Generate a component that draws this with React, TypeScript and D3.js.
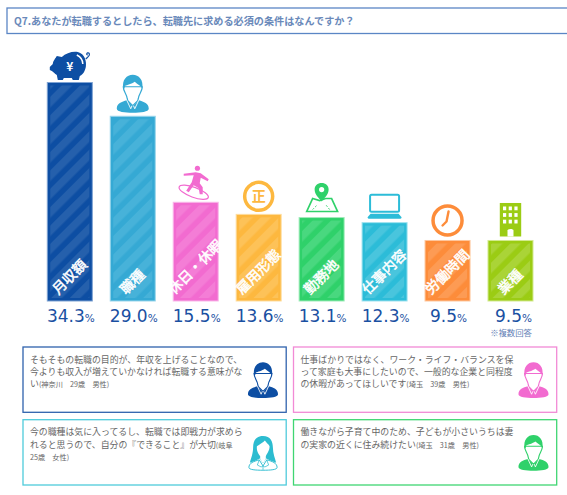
import { useEffect, useRef } from "react";
import * as d3 from "d3";

const W = 567;
const H = 495;
const JP = "'Noto Sans CJK JP', sans-serif";

const title = "Q7.あなたが転職するとしたら、転職先に求める必須の条件はなんですか？";
const categories = ["月収額", "職種", "休日・休暇", "雇用形態", "勤務地", "仕事内容", "労働時間", "業種"];
const values = [34.3, 29.0, 15.5, 13.6, 13.1, 12.3, 9.5, 9.5];
const barColors = ["#0d4ea3", "#35a9d4", "#f26bd0", "#fdb83f", "#2fd16a", "#2cbcd8", "#fd8c3a", "#9bcc14"];
const stripeColors = ["#2560ac", "#47b2d9", "#f47dd6", "#fdc258", "#49d87f", "#49c5dd", "#fd9b54", "#aad437"];
const borderColors = ["#7fa3d3", "#9ad6ec", "#f9b8e9", "#fedd9f", "#a0ecba", "#9fe2ef", "#fec79e", "#d3ea90"];

const commentColors = ["#2f62ad", "#f28ad6", "#4fcbdb", "#3fd672"];
const iconColors = ["#0d4ea3", "#f26bd0", "#2cbcd0", "#2fd16a"];
const commentFemale = [false, false, true, false];
// [本文, 小さい注記] per line
const commentLines: [string, string][][] = [
  [
    ["そもそもの転職の目的が、年収を上げることなので、", ""],
    ["今よりも収入が増えていかなければ転職する意味がな", ""],
    ["い", "(神奈川　29歳　男性)"],
  ],
  [
    ["仕事ばかりではなく、ワーク・ライフ・バランスを保", ""],
    ["って家庭も大事にしたいので、一般的な企業と同程度", ""],
    ["の休暇があってほしいです", "(埼玉　39歳　男性)"],
  ],
  [
    ["今の職種は気に入ってるし、転職では即戦力が求めら", ""],
    ["れると思うので、自分の『できること』が大切", "(岐阜"],
    ["", "25歳　女性)"],
  ],
  [
    ["働きながら子育て中のため、子どもが小さいうちは妻", ""],
    ["の実家の近くに住み続けたい", "(埼玉　31歳　男性)"],
  ],
];

type G = d3.Selection<SVGGElement, unknown, null, undefined>;

// icons are drawn around the origin (bar top centre, or box anchor)
function man(g: G, color: string) {
  g.append("path")
    .attr("fill", color)
    .attr("d", "M-16,-4 C-16,-9.5 -11,-11 -6,-12.5 L0,-6.5 L6,-12.5 C11,-11 16,-9.5 16,-4 C16,-1 8,0 0,0 C-8,0 -16,-1 -16,-4 Z");
  g.append("path")
    .attr("fill", "#fff")
    .attr("stroke", color)
    .attr("stroke-width", 1.2)
    .attr("d", "M-9.5,-26 C-9.5,-21 -6,-19 -5.5,-14 L-5,-12 L0,-7 L5,-12 L5.5,-14 C6,-19 9.5,-21 9.5,-26 Z");
  g.append("path")
    .attr("fill", color)
    .attr("d", "M-9.5,-24 C-11,-33 -6,-38 0,-38 C6,-38 11,-33 9.5,-24 C8.5,-27 5,-28 2,-31 C-1,-29 -6,-27.5 -7.5,-27 L-8.5,-24 Z");
  g.append("path")
    .attr("fill", "none")
    .attr("stroke", "#fff")
    .attr("stroke-width", 0.9)
    .attr("d", "M-6,-12.5 L-2,-4 L-0.8,-7 M6,-12.5 L2,-4 L0.8,-7");
}

function woman(g: G, color: string) {
  g.append("path")
    .attr("fill", "#fff")
    .attr("stroke", color)
    .attr("stroke-width", 1)
    .attr("d", "M-15,-3.5 C-15,-8 -10,-10 -4,-11.5 L0,-5 L4,-11.5 C10,-10 15,-8 15,-3.5 C15,-1 8,-0.5 0,-0.5 C-8,-0.5 -15,-1 -15,-3.5 Z");
  g.append("path")
    .attr("fill", "none")
    .attr("stroke", color)
    .attr("stroke-width", 0.8)
    .attr("d", "M-4,-11.5 L-6,-6 L-2,-4 L0,-5 L2,-4 L6,-6 L4,-11.5 M0,-5 L0,-1");
  g.append("path")
    .attr("fill", color)
    .attr("d", "M0,-37 C-8,-37 -10.5,-31 -10.5,-25 C-10.5,-18 -13,-13 -14,-8.5 L-7,-11 L-3.5,-13 L0,-8 L3.5,-13 L7,-11 L14,-8.5 C13,-13 10.5,-18 10.5,-25 C10.5,-31 8,-37 0,-37 Z");
  g.append("path")
    .attr("fill", "#fff")
    .attr("d", "M-6.5,-26 C-3,-28 0,-30 2,-32 C4,-29 6,-28 7,-26 C7,-21 4,-18 3,-15.5 L3,-12.5 L0,-8 L-3,-12.5 L-3,-15.5 C-5,-18 -7,-21 -6.5,-26 Z");
}

function piggy(g: G, color: string) {
  g.append("path")
    .attr("fill", color)
    .attr("d", "M-20,-14 L-17,-17 C-17,-20 -14,-23 -13,-25 L-8,-24 C-4,-28 3,-30 8,-29 C15,-27 17,-20 16,-14 C15,-10 14,-7 10,-5 L9,-1 L3,-1 L2,-3 L-6,-3 L-7,-1 L-12,-1 L-13,-6 C-16,-8 -16,-9 -18,-10 L-20,-11 Z");
  g.append("path")
    .attr("fill", "none")
    .attr("stroke", color)
    .attr("stroke-width", 1.2)
    .attr("d", "M16,-22 C18,-24 21,-26 19,-28 C17,-29 16,-26 18,-26");
  g.append("path")
    .attr("fill", "none")
    .attr("stroke", "#fff")
    .attr("stroke-width", 1.5)
    .attr("d", "M7,-26 C11,-24 13,-21 13,-17");
  g.append("text")
    .attr("y", -10)
    .attr("text-anchor", "middle")
    .attr("font-family", JP)
    .attr("font-weight", 700)
    .attr("font-size", 12)
    .attr("fill", "#fff")
    .text("¥");
}

function surfer(g: G, color: string) {
  g.append("circle").attr("cx", 1.7).attr("cy", -33).attr("r", 2.6).attr("fill", color);
  g.append("path")
    .attr("fill", color)
    .attr("d", "M-12,-27.5 L0,-29 L5,-28 L13,-22 L12,-20 L5,-23.5 L4,-18 L7,-14 L7,-7 L4,-7 L3,-13 L-2,-16 L-7,-9 L-9.5,-10.5 L-4,-19 L-2,-26 L-12,-25.5 Z");
  g.append("ellipse")
    .attr("cx", -2)
    .attr("cy", -9)
    .attr("rx", 15.5)
    .attr("ry", 5)
    .attr("transform", "rotate(20 -2 -9)")
    .attr("fill", "none")
    .attr("stroke", color)
    .attr("stroke-width", 1.2);
}

function coin(g: G, color: string) {
  g.append("circle").attr("cy", -17).attr("r", 14).attr("fill", "#fff").attr("stroke", color).attr("stroke-width", 3.5);
  g.append("text")
    .attr("y", -12)
    .attr("text-anchor", "middle")
    .attr("font-family", JP)
    .attr("font-weight", 700)
    .attr("font-size", 14)
    .attr("fill", color)
    .text("正");
}

function mapPin(g: G, color: string) {
  g.append("path")
    .attr("fill", "#fff")
    .attr("stroke", color)
    .attr("stroke-width", 1.6)
    .attr("d", "M-15,-5 L-9,-18 L-2,-16 L4,-18 L10,-18 L16,-5 Z");
  g.append("path")
    .attr("fill", color)
    .attr("d", "M0,-15 C-3,-19 -7,-22 -7,-27 C-7,-31 -4,-33.5 0,-33.5 C4,-33.5 7,-31 7,-27 C7,-22 3,-19 0,-15 Z");
  g.append("circle").attr("cy", -27).attr("r", 2.6).attr("fill", "#fff");
  g.append("path")
    .attr("fill", "none")
    .attr("stroke", color)
    .attr("stroke-width", 0.9)
    .attr("stroke-dasharray", "2 1.5")
    .attr("d", "M-9,-7 L-5,-11 M8,-7 L4,-12");
}

function laptop(g: G, color: string) {
  g.append("rect")
    .attr("x", -14.5)
    .attr("y", -27)
    .attr("width", 29)
    .attr("height", 17)
    .attr("rx", 1.5)
    .attr("fill", "#fff")
    .attr("stroke", color)
    .attr("stroke-width", 2);
  g.append("path").attr("fill", color).attr("d", "M-14,-8 L14,-8 L17,-4.5 C17,-3.5 16,-3 15,-3 L-15,-3 C-16,-3 -17,-3.5 -17,-4.5 Z");
}

function clock(g: G, color: string) {
  g.append("circle").attr("cy", -19).attr("r", 14.5).attr("fill", "#fff").attr("stroke", color).attr("stroke-width", 3.5);
  g.append("path")
    .attr("fill", "none")
    .attr("stroke", color)
    .attr("stroke-width", 2.4)
    .attr("stroke-linecap", "round")
    .attr("d", "M1,-28 L-1,-18 L-5,-14");
}

function building(g: G, color: string) {
  g.append("rect").attr("x", -10.7).attr("y", -36.5).attr("width", 21.4).attr("height", 33.5).attr("fill", color);
  d3.range(3).forEach((r) =>
    d3.range(3).forEach((c) => {
      g.append("rect")
        .attr("x", -7.5 + c * 5.7)
        .attr("y", -33 + r * 6.6)
        .attr("width", 3.2)
        .attr("height", 3.8)
        .attr("fill", "#fff");
    })
  );
  g.append("path").attr("fill", "#fff").attr("d", "M-3,-3 L-3,-9 C-3,-11 3,-11 3,-9 L3,-3 Z");
}

const icons = [piggy, man, surfer, coin, mapPin, laptop, clock, building];
const iconLift = [1.5, 3.5, 1, 1, 1, 1, 1, 1];

export default function App() {
  const svgRef = useRef<SVGSVGElement>(null);

  useEffect(() => {
    if (!svgRef.current) return;
    const svg = d3.select(svgRef.current);
    svg.selectAll("*").remove();

    const x = d3.scaleBand<string>().domain(categories).range([47.3, 533]).paddingInner(0.285);
    const y = d3.scaleLinear().domain([0, 34.3]).range([301, 82.5]);

    // title box
    svg.append("rect")
      .attr("x", 7)
      .attr("y", 8)
      .attr("width", W)
      .attr("height", 25.5)
      .attr("fill", "#fff")
      .attr("stroke", "#5b86c5")
      .attr("stroke-width", 1.3);
    svg.append("text")
      .attr("x", 14)
      .attr("y", 24.5)
      .attr("font-family", JP)
      .attr("font-weight", 700)
      .attr("font-size", 10.15)
      .attr("fill", "#6a89ba")
      .text(title);

    // stripes
    const defs = svg.append("defs");
    categories.forEach((_, i) => {
      const p = defs.append("pattern")
        .attr("id", `stripe${i}`)
        .attr("patternUnits", "userSpaceOnUse")
        .attr("width", 13)
        .attr("height", 13)
        .attr("patternTransform", "rotate(45)");
      p.append("rect").attr("width", 7.5).attr("height", 13).attr("fill", stripeColors[i]);
    });

    categories.forEach((cat, i) => {
      const bx = x(cat)!;
      const bw = x.bandwidth();
      const top = y(values[i]);
      const cx = bx + bw / 2;

      svg.append("rect")
        .attr("x", bx)
        .attr("y", top)
        .attr("width", bw)
        .attr("height", y(0) - top)
        .attr("fill", barColors[i])
        .attr("stroke", borderColors[i])
        .attr("stroke-width", 1);
      svg.append("rect")
        .attr("x", bx + 3)
        .attr("y", top + 3)
        .attr("width", bw - 6)
        .attr("height", y(0) - top - 6)
        .attr("fill", `url(#stripe${i})`);

      icons[i](svg.append("g").attr("transform", `translate(${cx},${top - iconLift[i]})`), barColors[i]);

      // label sits on the bar bottom, rotated
      const size = 14;
      const reach = ((cat.length + 1) * size) / Math.SQRT2;
      svg.append("text")
        .attr("transform", `translate(${cx - 1},${296 - reach / 2}) rotate(-45)`)
        .attr("text-anchor", "middle")
        .attr("dominant-baseline", "central")
        .attr("font-family", JP)
        .attr("font-size", size)
        .attr("fill", "#fff")
        .attr("stroke", "#fff")
        .attr("stroke-width", 0.5)
        .text(cat);

      const val = svg.append("text")
        .attr("x", cx + (i === 7 ? 3 : 1))
        .attr("y", 322)
        .attr("text-anchor", "middle")
        .attr("font-family", "'DejaVu Sans', sans-serif")
        .attr("font-size", 17)
        .attr("fill", "#1a50a2");
      val.append("tspan").text(values[i].toFixed(1));
      val.append("tspan").attr("font-size", 10.5).text("%");
    });

    svg.append("text")
      .attr("x", 532)
      .attr("y", 336)
      .attr("text-anchor", "end")
      .attr("font-family", JP)
      .attr("font-size", 8.4)
      .attr("fill", "#5f80b5")
      .text("※複数回答");

    // comment boxes, two by two
    const colX = d3.scalePoint<number>().domain([0, 1]).range([23, 293.5]);
    const rowY = d3.scalePoint<number>().domain([0, 1]).range([347, 419.7]);
    commentLines.forEach((lines, i) => {
      const bx = colX(i % 2)!;
      const by = rowY(Math.floor(i / 2))!;
      svg.append("rect")
        .attr("x", bx)
        .attr("y", by)
        .attr("width", 263.2)
        .attr("height", 65.3)
        .attr("fill", "#fff")
        .attr("stroke", commentColors[i])
        .attr("stroke-width", 1.3);

      lines.forEach(([body, note], k) => {
        const t = svg.append("text")
          .attr("x", bx + 7)
          .attr("y", by + 15.5 + k * 12.3)
          .attr("font-family", JP)
          .attr("font-size", 8.9)
          .attr("fill", "#666");
        t.append("tspan").text(body);
        if (note) t.append("tspan").attr("font-size", 7.2).text(note);
      });

      const icon = svg.append("g")
        .attr("transform", `translate(${bx + 240},${by + 51}) scale(0.94)`);
      (commentFemale[i] ? woman : man)(icon, iconColors[i]);
    });
  }, []);

  return (
    <svg
      ref={svgRef}
      width={W}
      height={H}
      viewBox={`0 0 ${W} ${H}`}
      style={{ position: "absolute", left: 0, top: 0, background: "#fff" }}
    />
  );
}
